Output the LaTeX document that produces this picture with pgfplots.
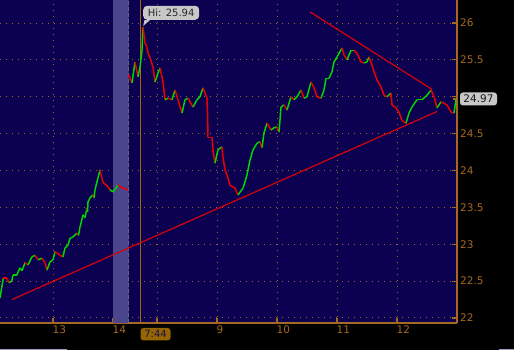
\documentclass[border=0pt]{standalone}
\usepackage{pgfplots}
\usepackage{pgfplotstable}
\pgfplotsset{compat=1.18}
\usepackage{fontspec}
\setmainfont{DejaVu Sans}
\definecolor{bgcol}{RGB}{12,0,80}
\definecolor{axcol}{RGB}{165,105,35}
\definecolor{bandcol}{RGB}{75,70,140}
\definecolor{gridcol}{RGB}{150,100,40}
\definecolor{vlinecol}{RGB}{170,100,20}
\definecolor{trendcol}{RGB}{215,0,10}
\definecolor{boxgrey}{RGB}{200,200,200}
\definecolor{timebox}{RGB}{150,100,0}
\definecolor{timetext}{RGB}{20,20,80}

\pgfplotstableread{
x y c
0 22.27 1
1.7 22.41 1
3.3 22.54 0
6.7 22.54 0
9 22.48 1
11.7 22.50 1
13 22.58 1
16.7 22.58 1
20 22.68 1
22 22.64 1
25 22.75 0
28 22.72 1
32 22.83 1
35 22.85 0
38 22.79 1
42 22.81 0
45 22.75 0
47 22.65 1
50 22.76 1
53 22.79 1
55 22.90 0
57 22.88 0
60 22.85 0
63 22.83 1
65 22.95 1
68 22.99 1
70 23.08 1
73 23.10 1
77 23.15 0
78.5 23.12 1
80 23.23 1
83 23.40 1
85 23.36 1
87 23.49 0
87.5 23.44 1
88 23.57 1
90 23.63 1
93 23.67 0
94 23.63 1
95 23.74 1
98 23.90 1
100 24.01 0
101 23.94 0
103 23.84 0
108 23.78 0
110 23.74 1
113 23.71 1
118 23.80 0
123 23.76 0
128 23.74 0
}\seriesA

\pgfplotstableread{
x y c
128.5 25.30 0
132 25.19 1
135 25.47 0
138 25.27 1
140 25.40 1
142 25.63 1
143 25.94 0
145 25.73 0
147 25.67 0
148 25.59 0
150 25.53 0
153 25.40 0
155 25.20 1
158 25.32 1
160 25.39 0
163 25.20 0
165 24.96 1
168 24.98 0
172 24.96 1
175 25.09 0
178 24.96 0
182 24.78 1
185 24.96 1
188 24.98 0
193 24.86 1
197 24.96 1
200 25.00 1
203 25.12 0
207 24.98 0
207.5 24.78 0
208 24.45 0
212 24.45 0
213 24.28 0
215 24.10 1
218 24.28 1
222 24.32 0
223 24.18 0
225 24.01 0
227 23.94 0
230 23.80 0
235 23.76 0
238 23.67 1
243 23.76 1
247 23.94 1
248 24.01 1
250 24.14 1
253 24.28 1
257 24.37 1
260 24.39 0
262 24.31 1
264 24.51 1
267 24.64 0
271 24.55 1
274 24.58 1
277 24.59 0
279 24.52 1
281 24.86 1
284 24.89 0
287 24.82 1
291 25.00 0
294 24.96 1
297 25.00 1
301 25.09 0
304 24.98 1
307 25.00 1
311 25.20 0
314 25.12 0
317 25.00 0
321 24.98 1
324 25.09 1
326 25.25 1
329 25.25 1
332 25.34 1
334 25.47 1
337 25.54 1
342 25.66 0
344 25.57 0
347 25.50 1
351 25.63 1
354 25.63 0
357 25.59 0
361 25.47 0
364 25.46 1
367 25.47 1
369 25.54 0
372 25.43 0
374 25.34 0
377 25.23 0
381 25.13 0
384 25.02 0
387 25.00 1
391 25.05 0
392 24.89 0
396 24.85 0
399 24.79 0
402 24.68 0
406 24.64 1
409 24.78 1
412 24.86 1
417 24.96 1
422 24.96 1
427 25.02 1
431 25.09 0
434 25.00 0
437 24.85 1
441 24.93 0
444 24.91 0
447 24.89 0
451 24.79 0
454 24.78 1
456 24.96 1
}\seriesB

\begin{document}
\begin{tikzpicture}
\fill[black] (0,-27bp) rectangle (514bp,323bp);
\useasboundingbox (0,-27bp) rectangle (514bp,323bp);
\fill[gray!70!blue!60] (0,-27bp) rectangle (67bp,-25.5bp);
\fill[gray!70!blue!60] (499bp,-27bp) rectangle (514bp,-25.5bp);
\begin{axis}[
  at={(0,0)}, anchor=south west,
  scale only axis, width=457bp, height=323bp,
  xmin=0, xmax=457, ymin=21.932, ymax=26.312,
  clip=false,
  axis background/.style={fill=bgcol},
  axis x line*=bottom, axis y line*=right,
  axis line style={axcol, line width=1.5bp, -},
  xtick={53,113,157,217,277,337,397},
  xticklabels={13,14,,9,10,11,12},
  ytick={22,22.5,23,23.5,24,24.5,25,25.5,26},
  yticklabels={22,22.5,23,23.5,24,24.5,,25.5,26},
  xticklabel style={font=\fontsize{10.5bp}{12bp}\selectfont, color=axcol, anchor=north west, inner sep=0pt, xshift=-0.5bp, yshift=-3bp},
  yticklabel style={font=\fontsize{10.5bp}{12bp}\selectfont, color=axcol, anchor=west, inner sep=0pt, xshift=3bp},
  /pgf/number format/assume math mode=true,
  major tick length=5bp, tick align=inside,
  tick style={axcol, line width=1.2bp},
  xmajorgrids, ymajorgrids,
  major grid style={gridcol, line width=1bp, dash pattern=on 1bp off 5bp},
  colormap={rg}{rgb255=(235,0,0) rgb255=(0,215,0)},
  point meta min=0, point meta max=1,
]
% shaded band
\addplot[draw=none, fill=bandcol] coordinates {(113,21.932) (128.5,21.932) (128.5,26.312) (113,26.312)} \closedcycle;
\addplot[color=gray!50!bandcol, line width=1bp, dash pattern=on 4bp off 2bp] coordinates {(128.5,21.932) (128.5,26.312)};
% cursor line
\addplot[color=vlinecol, line width=1bp] coordinates {(140,21.932) (140,26.312)};
% trend lines
\addplot[color=trendcol, line width=1.2bp] coordinates {(12,22.25) (437,24.80)};
\addplot[color=trendcol, line width=1.2bp] coordinates {(310,26.15) (432,25.10)};
% price
\addplot[mesh, shader=flat corner, line width=1.5bp, point meta=explicit] table[x=x, y=y, meta=c] {\seriesA};
\addplot[mesh, shader=flat corner, line width=1.5bp, point meta=explicit] table[x=x, y=y, meta=c] {\seriesB};
% last price tick
\addplot[color=axcol, line width=1.2bp] coordinates {(453,24.97) (457,24.97)};
% labels
\fill[boxgrey] (axis cs:144.5,26.04) -- (axis cs:150,26.04) -- (axis cs:143.2,25.96) -- cycle;
\node[fill=boxgrey, rounded corners=4bp, anchor=south west, minimum width=56bp, minimum height=14bp, inner sep=0pt, text=black!85, font=\fontsize{10bp}{12bp}\selectfont] at (axis cs:143,26.041) {Hi: 25.94};
\node[fill=boxgrey, rounded corners=3bp, minimum width=37bp, minimum height=13bp, inner sep=0pt, text=black!90, font=\fontsize{10.5bp}{12bp}\selectfont] at (axis cs:478.5,24.97) {24.97};
\node[fill=timebox, rounded corners=3bp, minimum width=30bp, minimum height=12.5bp, inner sep=0pt, text=timetext, font=\fontsize{10bp}{12bp}\selectfont] at (axis cs:155.5,21.78) {7:44};
\end{axis}
\end{tikzpicture}
\end{document}
